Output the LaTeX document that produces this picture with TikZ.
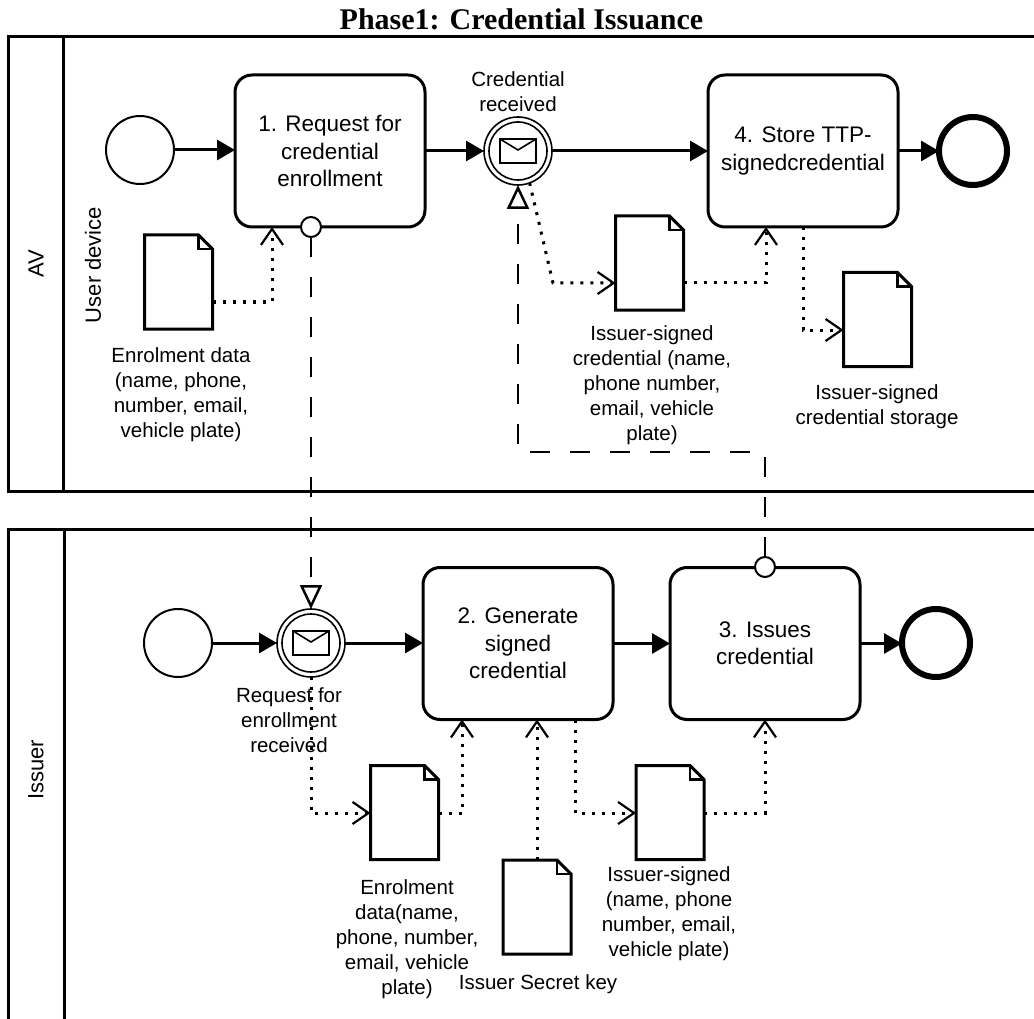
\documentclass[tikz,border=0pt]{standalone}
\usepackage{fontspec}
\setmainfont{Liberation Sans}
\newfontfamily\titlefont{Liberation Serif}
\usetikzlibrary{arrows.meta,calc}

% document shape with a folded top-right corner, drawn around a named node
\newcommand\docfold[1]{%
  \draw[line width=3pt, line join=miter] (#1.north west) -- ([xshift=-14pt]#1.north east)
    -- ([yshift=-14pt]#1.north east) -- (#1.south east) -- (#1.south west) -- cycle;
  \draw[line width=2.2pt] ([xshift=-14pt]#1.north east) -- ([xshift=-14pt,yshift=-14pt]#1.north east)
    -- ([yshift=-14pt]#1.north east);}

% envelope marker inside a message event
\newcommand\envelope[1]{%
  \draw[line width=1.6pt] (#1.center) circle (29pt);
  \draw[line width=2pt] ($(#1.center)+(-18,-12)$) rectangle ($(#1.center)+(18,12)$);
  \draw[line width=1.6pt] ($(#1.center)+(-18,-12)$) -- ($(#1.center)+(0,-1)$) -- ($(#1.center)+(18,-12)$);}

\begin{document}
\begin{tikzpicture}[x=1pt,y=-1pt,
  every node/.style={inner sep=0pt, outer sep=0pt},
  poolline/.style={line width=3pt},
  lanelabel/.style={rotate=90, font=\fontsize{22pt}{26pt}\selectfont},
  task/.style={draw, line width=3pt, rounded corners=17pt, minimum width=190pt,
    minimum height=152pt, align=center, font=\fontsize{22.5pt}{27.5pt}\selectfont},
  startev/.style={draw, circle, line width=2pt, minimum size=68pt},
  endev/.style={draw, circle, line width=6pt, minimum size=68pt},
  msgev/.style={draw, circle, line width=1.6pt, minimum size=68pt, fill=white},
  bnd/.style={draw, circle, line width=2pt, minimum size=20pt, fill=white},
  doc/.style={minimum width=68pt, minimum height=94pt},
  lbl/.style={align=center, font=\fontsize{20.5pt}{25pt}\selectfont},
  seq/.style={line width=3pt, -{Triangle[length=18pt,width=20pt]}},
  assoc/.style={line width=3pt, dash pattern=on 3pt off 7pt,
    -{Straight Barb[length=16pt,width=22pt,line width=2.2pt]}},
  msgflow/.style={line width=2.5pt, dash pattern=on 20pt off 20pt,
    -{Triangle[open,length=24pt,width=22pt]}},
]
\useasboundingbox (0,0) rectangle (1034,1019);
\fill[white] (0,0) rectangle (1034,1019);

% title
\node[font=\titlefont\bfseries\fontsize{30pt}{30pt}\selectfont, anchor=base] (title)
  at (521.5,30) {Phase1: Credential Issuance};

% pools and lanes
\draw[poolline] (1040,37) -- (8,37) -- (8,491) -- (1040,491);
\draw[poolline] (63,37) -- (63,491);
\draw[poolline] (1040,529) -- (8,529) -- (8,1030);
\draw[poolline] (64,529) -- (64,1030);
\node[lanelabel] (avlbl) at (36,264) {AV};
\node[lanelabel] (udlbl) at (93,265) {User device};
\node[lanelabel] (islbl) at (36,770) {Issuer};

% user device lane
\node[startev] (s1) at (140,150) {};
\node[task] (t1) at (330,151) {1. Request for\\credential\\enrollment};
\node[bnd] (b1) at (311,227) {};
\node[msgev] (ev1) at (518,151) {};
\envelope{ev1}
\node[lbl] (ev1l) at (518,92) {Credential\\received};
\node[task] (t4) at (803,151) {4. Store TTP-\\signedcredential};
\node[endev] (e1) at (973,151) {};

\node[doc] (d1) at (178.5,282) {}; \docfold{d1}
\node[lbl] (d1l) at (181,395) {Enrolment data\\(name, phone,\\number, email,\\vehicle plate)};
\node[doc] (d2) at (649.5,263) {}; \docfold{d2}
\node[lbl] (d2l) at (652,385) {Issuer-signed\\credential (name,\\phone number,\\email, vehicle\\plate)};
\node[doc] (d3) at (877.5,319.5) {}; \docfold{d3}
\node[lbl] (d3l) at (877,407) {Issuer-signed\\credential storage};

% issuer lane
\node[startev] (s2) at (178,643) {};
\node[msgev] (ev2) at (311,643) {};
\envelope{ev2}
\node[lbl] (ev2l) at (289,720) {Request for\\enrollment\\received};
\node[task] (t2) at (518,643.5) {2. Generate\\signed\\credential};
\node[task] (t3) at (765,643.5) {3. Issues\\credential};
\node[bnd] (b3) at (765,567) {};
\node[endev] (e2) at (936,643) {};

\node[doc] (d4) at (404.5,812.5) {}; \docfold{d4}
\node[lbl] (d4l) at (407,939) {Enrolment\\data(name,\\phone, number,\\email, vehicle\\plate)};
\node[doc] (d5) at (537,907) {}; \docfold{d5}
\node[lbl] (d5l) at (538,984) {Issuer Secret key};
\node[doc] (d6) at (670,812.5) {}; \docfold{d6}
\node[lbl] (d6l) at (669,914) {Issuer-signed\\(name, phone\\number, email,\\vehicle plate)};

% sequence flows
\draw[seq] (s1.east) -- (s1.east -| t1.west);
\draw[seq] (t1.east) -- (ev1.west);
\draw[seq] (ev1.east) -- (t4.west);
\draw[seq] (t4.east) -- (e1.west);
\draw[seq] (s2.east) -- (ev2.west);
\draw[seq] (ev2.east) -- (ev2.east -| t2.west);
\draw[seq] (t2.east) -- (t3.west);
\draw[seq] (t3.east) -- (t3.east -| e2.west);

% message flows
\draw[msgflow] (b1.south) -- (ev2.north);
\coordinate (mfc) at (640,452);
\draw[msgflow] (b3.north) |- (mfc) -| (ev1.south);

% data associations
\coordinate (r1) at (0,302);
\draw[assoc] (d1.east |- r1) -| ([xshift=-58pt]t1.south);
\coordinate (k1) at (553,283);
\draw[assoc] (ev1.-70) -- (k1) -- (d2.west |- k1);
\draw[assoc] (d2.east |- k1) -| ([xshift=-37pt]t4.south);
\coordinate (r3) at (0,330);
\draw[assoc] (t4.south) |- (d3.west |- r3);
\coordinate (rB) at (0,813);
\draw[assoc] (ev2.south) |- (d4.west |- rB);
\draw[assoc] (d4.east |- rB) -| ([xshift=-56pt]t2.south);
\draw[assoc] (d5.north) -- (d5.north |- t2.south);
\draw[assoc] ([xshift=57pt]t2.south) |- (d6.west |- rB);
\draw[assoc] (d6.east |- rB) -| (t3.south);
\end{tikzpicture}
\end{document}
